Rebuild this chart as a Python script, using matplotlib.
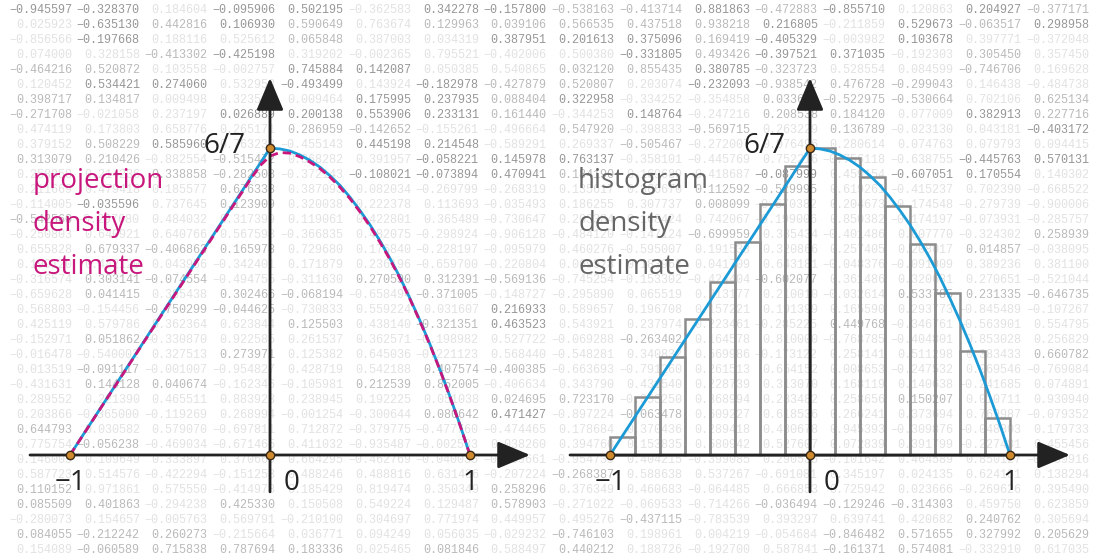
import matplotlib
matplotlib.use("Agg")
import matplotlib.pyplot as plt

# ---- density curve ----
pdf_x = [-1.0, -0.5, 0.0, 0.05, 0.1, 0.15, 0.2, 0.25, 0.3, 0.35, 0.4, 0.45, 0.5,
         0.55, 0.6, 0.65, 0.7, 0.75, 0.8, 0.85, 0.9, 0.95, 1.0]
pdf_y = [0.0, 0.429, 0.857, 0.855, 0.849, 0.838, 0.823, 0.804, 0.780, 0.753, 0.720,
         0.683, 0.643, 0.598, 0.549, 0.496, 0.437, 0.375, 0.309, 0.238, 0.163, 0.084, 0.0]

# projection estimate (slightly rounded peak)
proj_x = [-1.0, -0.5, -0.1, -0.05, 0.0, 0.05, 0.1, 0.15, 0.2, 0.25, 0.3, 0.35, 0.4,
          0.45, 0.5, 0.55, 0.6, 0.65, 0.7, 0.75, 0.8, 0.85, 0.9, 0.95, 1.0]
proj_y = [0.0, 0.427, 0.768, 0.808, 0.835, 0.845, 0.843, 0.833, 0.818, 0.800, 0.776,
          0.748, 0.716, 0.679, 0.639, 0.594, 0.546, 0.493, 0.435, 0.373, 0.307, 0.237,
          0.162, 0.083, 0.0]

# histogram
bin_left = [-1.0, -0.875, -0.75, -0.625, -0.5, -0.375, -0.25, -0.125,
            0.0, 0.125, 0.25, 0.375, 0.5, 0.625, 0.75, 0.875]
bin_height = [0.051, 0.162, 0.274, 0.380, 0.483, 0.595, 0.701, 0.807,
              0.857, 0.830, 0.777, 0.696, 0.589, 0.452, 0.290, 0.104]
bin_width = 0.125

peak = 0.857
tick_pos = [-1, 0, 1]
tick_text = ["\u22121", "0", "1"]
left_label = ["projection", "density", "estimate"]
right_label = ["histogram", "density", "estimate"]

# ---- background number grid ----
bg_rows = [
    "-0.945597 -0.328370 0.184604 -0.095906 0.502195 -0.362583 0.342278 -0.157800 -0.538163 -0.413714 0.881863 -0.472883 -0.855710 0.120863 0.204927 -0.377171",
    "0.025923 -0.635130 0.442816 0.106930 0.590649 0.763674 0.129963 0.039106 0.566535 0.437518 0.938218 0.216805 -0.211859 0.529673 -0.063517 0.298958",
    "-0.856566 -0.197668 0.188116 0.525612 0.065848 0.387003 0.034319 0.387951 0.201613 0.375096 0.169419 -0.405329 -0.003982 0.103678 0.397771 -0.372048",
    "0.074000 0.328158 -0.413302 -0.425198 0.319202 -0.002365 0.795521 -0.402006 0.500380 -0.331805 0.493426 -0.397521 0.371035 -0.192303 0.305450 0.357450",
    "-0.464216 0.520872 0.103558 -0.002757 0.745884 0.142087 0.050385 0.540865 0.032120 0.855435 0.380785 -0.323723 0.528554 0.084599 -0.746706 0.169628",
    "0.120452 0.534421 0.274060 0.532958 -0.493499 0.143924 -0.182978 -0.427879 0.520807 0.203074 -0.232093 -0.938542 0.476728 -0.299043 0.146438 -0.484738",
    "0.398717 0.134817 0.009498 0.323518 0.009464 0.175995 0.237935 0.088404 0.322958 -0.334252 -0.354858 0.033613 -0.522975 -0.530664 0.702106 0.625134",
    "-0.271708 -0.021058 0.237197 0.026889 0.200138 0.553906 0.233131 0.161440 -0.344253 0.148764 -0.247216 0.208538 0.184120 0.077009 0.382913 0.227716",
    "0.474119 0.173803 0.658776 0.265171 0.286959 -0.142652 -0.155261 -0.496664 0.547920 -0.398833 -0.569715 0.263229 0.136789 -0.023130 0.043181 -0.403172",
    "0.379152 0.508229 0.585960 0.763233 -0.455143 0.445198 0.214548 -0.589291 0.269337 -0.505467 -0.272007 0.076496 0.280614 0.074763 0.079793 0.094415",
    "0.313079 0.210426 -0.882554 -0.515472 0.368282 0.391957 -0.058221 0.145978 0.763137 -0.358101 -0.445769 0.752216 -0.756118 -0.638755 -0.445763 0.570131",
    "0.258858 0.214236 0.338858 -0.282508 -0.372143 -0.108021 -0.073894 0.470941 0.184190 0.169689 0.418687 -0.087999 0.459154 -0.607051 0.170554 0.140302",
    "0.211669 0.479418 0.185577 0.676338 0.387093 0.082034 -0.269799 -0.268319 0.135617 0.366670 0.112592 -0.529995 0.619261 -0.415237 0.702390 -0.668522",
    "-0.114005 -0.035596 0.737645 0.123909 0.320038 0.222378 0.113693 -0.035493 0.186255 0.307737 0.008099 -0.570382 0.204673 -0.174548 -0.279739 -0.900006",
    "-0.542560 -0.297680 0.484032 0.317399 0.119061 0.422801 0.365489 -0.730647 0.203384 0.168424 0.742067 -0.199006 0.850382 -0.174197 -0.073931 -0.285757",
    "-0.250803 0.640921 0.640766 0.567598 -0.366835 0.482075 -0.298924 -0.906128 -0.484120 -0.147124 -0.699959 0.385434 -0.401486 0.607770 -0.324302 0.258939",
    "0.655828 0.679337 -0.406863 0.165978 0.729680 0.176840 -0.228197 -0.095979 0.460276 -0.595007 0.191538 0.320866 0.257405 0.208017 0.014857 -0.038095",
    "0.199120 0.442120 0.043956 -0.342401 0.171879 0.236196 -0.659700 -0.220804 0.069528 0.183962 0.041709 0.643181 -0.048376 -0.091909 0.389236 0.381100",
    "-0.316574 0.303141 -0.074554 -0.494755 -0.311630 0.270590 0.312391 -0.569136 -0.745254 -0.153302 -0.424404 -0.602077 0.361486 0.320681 0.270651 -0.521044",
    "-0.659628 0.041415 0.385438 0.302466 -0.068194 -0.658494 -0.371005 -0.148727 -0.295890 0.065519 0.213177 0.210010 -0.032614 0.533785 0.231335 -0.646735",
    "0.568803 -0.154456 -0.750299 -0.044625 -0.730833 0.559224 0.031607 0.216933 0.589657 0.196708 0.157221 0.191399 0.165590 0.293773 -0.845489 -0.107267",
    "0.425119 0.579786 0.362364 0.623844 0.125503 0.438140 -0.321351 0.463523 0.543921 0.237974 0.223461 -0.285225 0.449768 -0.346761 -0.563901 0.554795",
    "-0.152971 0.051862 -0.330870 0.922585 0.261537 0.362571 -0.198982 0.527722 -0.069288 -0.263402 0.164578 0.810000 -0.768785 -0.404801 0.853028 0.256829",
    "-0.016478 -0.540002 0.327513 0.273971 0.125382 0.645036 -0.221123 0.568440 -0.548281 0.340832 0.569986 -0.173122 0.258141 0.511298 0.383433 0.660782",
    "0.013519 -0.091117 -0.001007 -0.954827 0.428719 0.542188 0.407574 -0.400385 -0.663693 -0.791260 0.261513 0.654152 0.008653 -0.247532 0.069546 -0.769084",
    "-0.431631 0.144128 0.040674 -0.162346 -0.105981 0.212539 0.852005 -0.406634 0.343790 0.431540 0.228739 0.313070 0.168119 0.140638 -0.241685 0.074891",
    "0.289552 0.221390 0.465511 0.883923 0.238945 0.192225 0.051038 0.024695 0.723170 -0.353250 0.368994 0.283482 0.258656 0.150207 0.010711 0.930940",
    "0.203866 -0.365000 -0.119269 0.268994 -0.001254 -0.300644 0.080642 0.471427 -0.897224 -0.063478 0.609227 0.618536 0.266241 0.373694 0.769987 -0.079352",
    "0.644793 0.030582 0.579070 -0.697811 0.712872 -0.379775 -0.477760 -0.474465 0.178684 0.370436 0.289418 0.480678 0.945393 -0.309876 -0.048803 0.179733",
    "0.775754 -0.056238 -0.469034 -0.671465 0.411032 -0.935487 -0.002533 0.038260 0.394760 0.153835 0.580942 0.527607 0.072839 0.391799 -0.227481 0.455456",
    "0.146009 0.109649 0.333897 0.370669 0.664295 -0.462769 -0.040035 -0.759661 -0.954739 0.404215 -0.399085 0.290535 -0.101642 0.464589 0.850127 -0.759916",
    "0.587723 0.514576 -0.422294 -0.151258 0.488246 0.488816 0.631436 -0.207224 -0.268387 0.588638 0.537267 -0.691081 0.345197 0.024135 0.624131 0.138294",
    "0.110152 0.971861 0.575550 -0.414978 0.185429 0.819474 0.350349 0.258296 0.376349 0.460683 -0.064485 0.666853 0.725942 0.023666 -0.269626 0.395490",
    "0.085509 0.401863 -0.294238 0.425330 0.150508 0.549224 0.129487 0.578903 -0.271022 -0.069533 -0.714266 -0.036494 -0.129246 -0.314303 0.459750 0.623859",
    "-0.280073 0.154657 -0.005763 0.569791 -0.210100 0.304697 0.771974 0.449957 0.495276 -0.437115 -0.783539 0.393297 0.639741 0.420682 0.240762 0.305694",
    "0.084055 -0.212242 0.260273 -0.215664 0.036771 0.094249 0.056035 -0.029232 -0.746103 0.198961 0.004219 -0.054684 -0.846482 0.571655 0.327992 0.205629",
    "0.154089 -0.060589 0.715838 0.787694 0.183336 0.025465 0.081846 0.588497 0.440212 0.188726 -0.192700 0.587841 -0.161371 0.574081 -0.332910 0.617035",
]
bg_shades = [
    "ddfddfddmmdmdfdm", "fdmdmfmmmmmdfdmd", "fdffmffdddmdfdff", "ffmdfffffdmddfmf",
    "mmffddffmmdmffmf", "fddfdfdmmfdmmmff", "mmfffddmdffmmmfm", "mffddddmfdfmmfdm",
    "ffffmmffmfmfmffd", "fmdffddffmffffff", "mmfmffdddfffffdd", "ffmmfdddmffdfddf",
    "fffmffffffmmffff", "fdfmffffffmfffff", "mfffffffffffffff", "ffffffffffmffffm",
    "fmmmffffffffffmf", "ffffffffffffffff", "fmmffmmmfffmffff", "fmfmmfmffffffmmm",
    "ffmmfffdffffffff", "ffffmfmdffffmfff", "fmfffffffmffffff", "fffmfffffffffffm",
    "fmffffmmffffffff", "fmmffmmfffffffff", "fffffffmmffffmff", "ffffffmdfmffffff",
    "mfffffffffffffff", "fmffffffffffffff", "ffffffffffffffff", "ffffffffmfffffff",
    "mffffffmffffffff", "mmfmfffmfffmmmff", "fffffffffmffffmf", "mmmfffffmfffmmmm",
    "fmmmmfmfmfffmmff",
]
shade_color = {"d": "#979797", "m": "#bababa", "f": "#e2e2e2"}

SANS = ["Open Sans", "DejaVu Sans"]
MONO = ["Liberation Mono", "DejaVu Sans Mono"]
BLUE = "#1b9ad6"
MAGENTA = "#c8177c"
DARK = "#222222"

fig = plt.figure(figsize=(11, 5.6), dpi=100)

# background layer in pixel coordinates
bg = fig.add_axes([0, 0, 1, 1], zorder=0)
bg.set_xlim(0, 1100)
bg.set_ylim(560, 0)
bg.axis("off")
for i, (row, shades) in enumerate(zip(bg_rows, bg_shades)):
    for k, (val, s) in enumerate(zip(row.split(), shades)):
        bg.text(72 + 67.8 * k, 10 + 15 * i, val.replace("-", "\u2212"),
                ha="right", va="center", fontsize=8.45, family=MONO,
                color=shade_color[s])

for j, word in enumerate(left_label):
    bg.text(33, 188 + 43 * j, word, fontsize=20, family=SANS, color=MAGENTA,
            va="baseline", ha="left")
for j, word in enumerate(right_label):
    bg.text(578, 188 + 43 * j, word, fontsize=20, family=SANS, color="#666666",
            va="baseline", ha="left")

# y: 358 px per unit, x: 200 px per unit, y=0 at 455 px from top
ylim = (-105 / 358, 455 / 358)


def make_panel(rect, xlim):
    ax = fig.add_axes(rect, zorder=1)
    ax.set_xlim(*xlim)
    ax.set_ylim(*ylim)
    ax.axis("off")
    return ax


def draw_axes(ax):
    arrow = dict(arrowstyle="-|>,head_length=1.0,head_width=0.42", mutation_scale=20,
                 color=DARK, lw=2, shrinkA=0, shrinkB=0)
    ax.annotate("", xy=(1.3, 0), xytext=(-1.2, 0), arrowprops=arrow, zorder=4)
    ax.annotate("", xy=(0, 1.053), xytext=(0, -0.103), arrowprops=arrow, zorder=4)
    ax.plot([-1, 0, 1, 0], [0, 0, 0, peak], "o", ms=6, mfc="#d08a2e", mec="#3b2a18",
            mew=1, zorder=6)
    for t, s in zip(tick_pos, tick_text):
        ax.text(t + (0.11 if t == 0 else 0), -0.098, s, ha="center", va="baseline",
                fontsize=20, family=SANS, color=DARK)
    ax.text(-0.125, 0.843, "6/7", ha="right", va="baseline", fontsize=20,
            family=SANS, color=DARK)


# left panel: projection estimate
axl = make_panel([0, 0, 0.5, 1], (-1.35, 1.4))
draw_axes(axl)
axl.plot(pdf_x, pdf_y, color=BLUE, lw=2, zorder=3)
axl.plot(proj_x, proj_y, color=MAGENTA, lw=2, ls=(0, (3, 1.8)), zorder=3.5)

# right panel: histogram estimate
axr = make_panel([0.5, 0, 0.5, 1], (-1.3, 1.45))
axr.bar(bin_left, bin_height, width=bin_width, align="edge", fill=False,
        edgecolor="#8c8c8c", lw=1.8, zorder=2)
draw_axes(axr)
axr.plot(pdf_x, pdf_y, color=BLUE, lw=2, zorder=3)

fig.savefig("out.png", dpi=100)
